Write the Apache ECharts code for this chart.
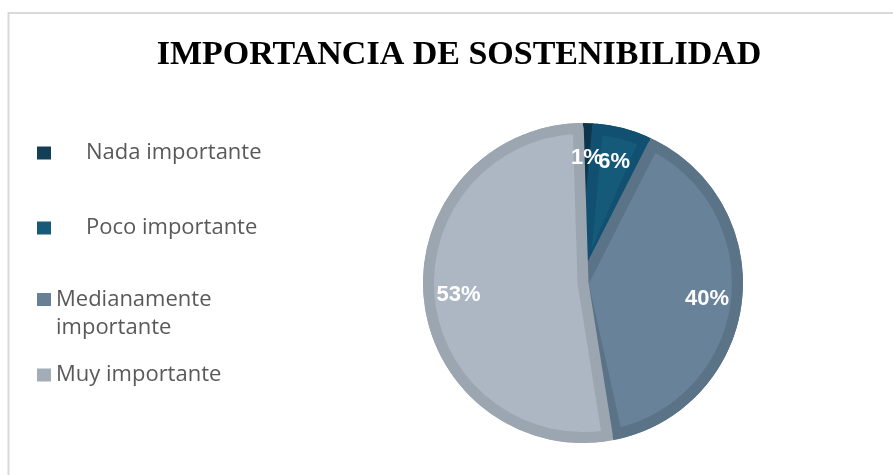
<!DOCTYPE html>
<html>
<head>
<meta charset="utf-8">
<script src="https://cdn.jsdelivr.net/npm/echarts@6/dist/echarts.min.js"></script>
<style>
  html, body { margin: 0; padding: 0; background: #fff; }
  #chart { width: 893px; height: 475px; }
</style>
</head>
<body>
<div id="chart"></div>
<script>
// datos del gráfico
var categorias = ['Nada importante', 'Poco importante', 'Medianamente importante', 'Muy importante'];
var porcentajes = [1, 6, 40, 53];
var coloresRelleno = ['#113f57', '#165a7a', '#68829a', '#adb7c3'];
var coloresBorde = ['#0d364b', '#115070', '#5b7387', '#9ca6b1'];
var coloresLeyenda = ['#123f57', '#175a78', '#687f95', '#a3adb8'];

var chart = echarts.init(document.getElementById('chart'));

// una leyenda por elemento, como en el original
var legendTops = [139, 214, 285.5, 361];
var legendPads = [30, 30, 0, 0];
var leyendas = categorias.map(function (nombre, i) {
    var dosLineas = nombre === 'Medianamente importante';
    return {
        orient: 'vertical',
        left: 37,
        top: legendTops[i],
        selectedMode: false,
        // cuadro arriba para alinearlo con la primera línea
        icon: dosLineas ? 'path://M0 0H14V13H0Z M0 41' : 'rect',
        itemWidth: 14,
        itemHeight: dosLineas ? 41 : 13,
        padding: 0,
        data: [{ name: nombre, itemStyle: { color: coloresLeyenda[i] } }],
        formatter: function (n) {
            return n === 'Medianamente importante' ? 'Medianamente\nimportante' : n;
        },
        textStyle: {
            fontFamily: 'Open Sans',
            fontSize: 22,
            lineHeight: 28,
            color: '#595959',
            padding: [0, 0, 0, legendPads[i]]
        }
    };
});

var option = {
    animation: false,
    title: {
        text: 'IMPORTANCIA DE SOSTENIBILIDAD',
        left: 454,
        textAlign: 'center',
        top: 33,
        textStyle: {
            fontFamily: 'Liberation Serif',
            fontWeight: 'bold',
            fontSize: 34,
            color: '#000'
        }
    },
    legend: leyendas,
    graphic: [{
        type: 'rect',
        silent: true,
        shape: { x: 8.5, y: 13, width: 900, height: 480 },
        style: { fill: 'none', stroke: '#d9d9d9', lineWidth: 2 }
    }],
    series: [
        {
            // fondo: color del borde de cada sector
            name: 'borde',
            type: 'pie',
            center: [583, 283],
            radius: 160,
            startAngle: 90,
            silent: true,
            label: { show: false },
            labelLine: { show: false },
            data: categorias.map(function (nombre, i) {
                return { name: nombre, value: porcentajes[i], itemStyle: { color: coloresBorde[i] } };
            })
        },
        {
            // relleno interior, separado del borde
            name: 'relleno',
            type: 'pie',
            center: [583, 283],
            radius: 154.5,
            startAngle: 90,
            padAngle: 3.5,
            silent: true,
            label: { show: false },
            labelLine: { show: false },
            data: categorias.map(function (nombre, i) {
                return {
                    name: nombre,
                    value: porcentajes[i],
                    itemStyle: {
                        color: i === 0 ? coloresBorde[i] : coloresRelleno[i],
                        borderColor: coloresBorde[i],
                        borderWidth: i === 0 ? 0 : 11
                    }
                };
            })
        },
        {
            name: 'etiquetas',
            type: 'pie',
            center: [583, 283],
            radius: [84, 160],
            startAngle: 90,
            silent: true,
            avoidLabelOverlap: false,
            labelLayout: { hideOverlap: false },
            itemStyle: { color: 'rgba(0,0,0,0)' },
            label: {
                show: true,
                position: 'inside',
                formatter: '{c}%',
                color: '#fff',
                fontFamily: 'Liberation Sans',
                fontWeight: 'bold',
                fontSize: 22
            },
            labelLine: { show: false },
            data: categorias.map(function (nombre, i) {
                return { name: nombre, value: porcentajes[i] };
            })
        }
    ]
};

chart.setOption(option);
</script>
</body>
</html>
